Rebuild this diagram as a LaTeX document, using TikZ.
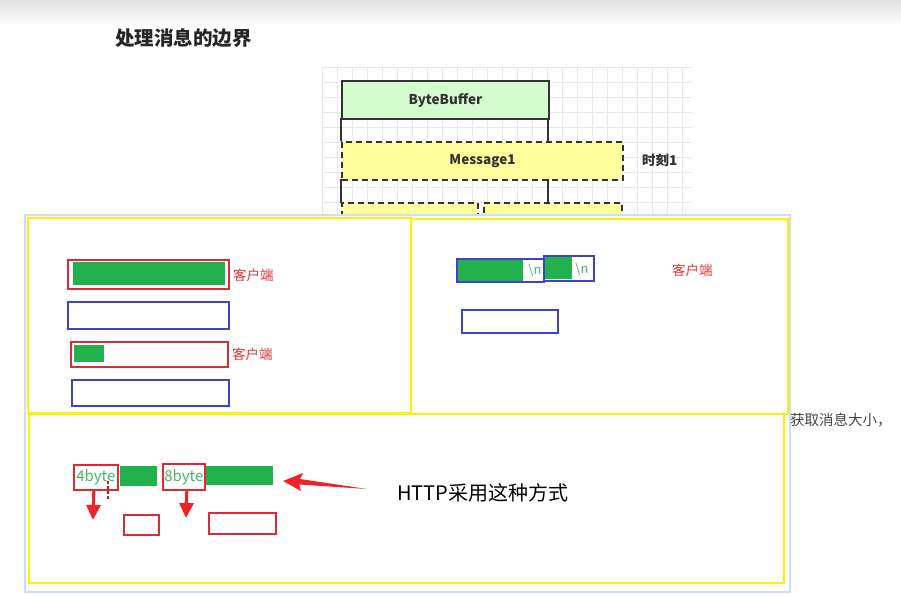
\documentclass[tikz,border=0pt]{standalone}
\usepackage{fontspec}
\setmainfont{Noto Sans CJK SC}
\usetikzlibrary{arrows.meta,positioning}

\definecolor{gridgray}{RGB}{232,232,232}
\definecolor{framedark}{RGB}{51,51,51}
\definecolor{bbgreen}{RGB}{213,252,206}
\definecolor{msgyellow}{RGB}{255,255,158}
\definecolor{panelyellow}{RGB}{255,242,0}
\definecolor{shadowblue}{RGB}{204,222,246}
\definecolor{boxred}{RGB}{222,42,52}
\definecolor{boxblue}{RGB}{66,66,196}
\definecolor{bargreen}{RGB}{34,177,76}
\definecolor{textgreen}{RGB}{72,180,112}
\definecolor{labelred}{RGB}{222,52,52}
\definecolor{arrowred}{RGB}{238,34,40}
\definecolor{notegray}{RGB}{68,68,68}

\begin{document}
\begin{tikzpicture}[
    x=1pt,
    y=-1pt,
    gridline/.style={line width=0.6pt, draw=gridgray},
    frameline/.style={line width=2pt, draw=framedark},
    bufbox/.style={
        frameline,
        fill=bbgreen,
        inner sep=0pt,
        anchor=north west,
        text=framedark,
        font=\bfseries\fontsize{13.5}{14}\selectfont
    },
    msgbox/.style={
        frameline,
        dashed,
        dash pattern=on 6pt off 4pt,
        fill=msgyellow,
        inner sep=0pt,
        anchor=north west,
        text=framedark,
        font=\bfseries\fontsize{13.5}{14}\selectfont
    },
    panel/.style={line width=2.2pt, draw=panelyellow},
    redbox/.style={draw=boxred, line width=1.6pt, inner sep=0pt, anchor=north west},
    bluebox/.style={draw=boxblue, line width=1.6pt, inner sep=0pt, anchor=north west},
    greenbar/.style={fill=bargreen, inner sep=0pt, anchor=north west},
    clientlabel/.style={
        text=labelred,
        inner sep=0pt,
        anchor=west,
        font=\fontsize{13.5}{14}\selectfont
    },
    nltext/.style={text=textgreen, inner sep=0pt, font=\fontsize{13}{14}\selectfont},
    downarrow/.style={
        draw=arrowred,
        line width=3pt,
        -{Triangle[length=15pt,width=14pt]}
    }
]

% =========================================================
% 画布与顶部渐变
% =========================================================

\useasboundingbox (0,0) rectangle (901,595);
\fill[white] (0,0) rectangle (901,595);
\shade[top color=black!12, bottom color=white] (0,0) rectangle (901,26);

% =========================================================
% 标题
% =========================================================

\node[anchor=west, inner sep=0pt, text=black!85,
      font=\bfseries\fontsize{19.5}{20}\selectfont] (title) at (115,38)
    {处理消息的边界};

% =========================================================
% 背景网格
% =========================================================

\foreach \gx in {322,337,...,692}
    \draw[gridline] (\gx,67) -- (\gx,215);
\foreach \gy in {67,82,...,215}
    \draw[gridline] (322,\gy) -- (692,\gy);

% =========================================================
% ByteBuffer 与消息
% =========================================================

\node[bufbox, minimum width=207pt, minimum height=38pt] (buf) at (341,80) {ByteBuffer};

\draw[frameline] (341,118) -- (341,141);
\draw[frameline] (548,118) -- (548,141);

\node[msgbox, minimum width=281pt, minimum height=38pt] (msg1) at (341,141) {Message1};
\node[anchor=west, inner sep=0pt, text=framedark,
      font=\bfseries\fontsize{13.5}{14}\selectfont] (t1) at (642,160) {时刻1};

\draw[frameline] (341,179) -- (341,203);
\draw[frameline] (548,179) -- (548,203);

\node[msgbox, minimum width=136pt, minimum height=40pt] (msg2a) at (341,202) {};
\node[msgbox, minimum width=138pt, minimum height=40pt] (msg2b) at (483,202) {};

% =========================================================
% 覆盖的面板
% =========================================================

\draw[draw=shadowblue, line width=2.5pt, fill=white] (25,215) rectangle (790,592);

\draw[panel] (28,218) rectangle (411,413);
\draw[panel] (411,219) rectangle (788,414);
\draw[panel] (29,414) rectangle (784,583);

\node[anchor=west, inner sep=0pt, text=notegray,
      font=\fontsize{14.5}{15}\selectfont] (note) at (790,420) {获取消息大小，};

% =========================================================
% 左上：半包与粘包
% =========================================================

\node[redbox, minimum width=161pt, minimum height=29pt] (r1) at (67,259) {};
\node[greenbar, minimum width=152pt, minimum height=23pt] (g1) at (73,262) {};
\node[clientlabel] (c1) at (233,275) {客户端};

\node[bluebox, minimum width=161pt, minimum height=27pt] (s1) at (67,301) {};

\node[redbox, minimum width=157pt, minimum height=25pt] (r2) at (70,341) {};
\node[greenbar, minimum width=30pt, minimum height=17pt] (g2) at (74,345) {};
\node[clientlabel] (c2) at (232,354) {客户端};

\node[bluebox, minimum width=157pt, minimum height=26pt] (s2) at (71,379) {};

% =========================================================
% 右上：分隔符
% =========================================================

\node[greenbar, minimum width=66pt, minimum height=22pt] (d1) at (457,259) {};
\node[bluebox, minimum width=87pt, minimum height=23pt] (n1) at (456,258) {};
\node[nltext] at (535,270) {\textbackslash n};

\node[greenbar, minimum width=27pt, minimum height=23pt] (d2) at (545,256) {};
\node[bluebox, minimum width=50pt, minimum height=25pt] (n2) at (543,255) {};
\node[nltext] at (582,269) {\textbackslash n};

\node[clientlabel] (c3) at (672,270) {客户端};

\node[bluebox, minimum width=96pt, minimum height=23pt] (n3) at (461,309) {};

% =========================================================
% 下方：长度字段
% =========================================================

\node[redbox, minimum width=44pt, minimum height=25pt, text=textgreen,
      font=\fontsize{15}{15}\selectfont] (b4) at (73,464) {4byte};
\node[greenbar, minimum width=37pt, minimum height=20pt] (g4) at (120,466) {};

\node[redbox, minimum width=42pt, minimum height=26pt, text=textgreen,
      font=\fontsize{15}{15}\selectfont] (b8) at (162,463) {8byte};
\node[greenbar, minimum width=67pt, minimum height=19pt] (g8) at (206,466) {};

\draw[draw=boxred!75!black, line width=1.2pt, dashed, dash pattern=on 3pt off 2pt]
    (108,481) -- (108,500);

\node[redbox, minimum width=35pt, minimum height=20pt] (p4) at (123,514) {};
\node[redbox, minimum width=67pt, minimum height=21pt] (p8) at (208,512) {};

\coordinate (a4) at (93,520);
\coordinate (a8) at (186,518);
\draw[downarrow] ([xshift=-2pt]b4.south) -- (a4);
\draw[downarrow] ([xshift=3pt]b8.south) -- (a8);

% 指向长度字段的箭头
\coordinate (tip) at (283,481);
\coordinate (tail) at (367,489);
\fill[arrowred] (tip) -- (303,473) -- (300,479) -- (tail)
    -- (299,484.5) -- (301,491) -- cycle;

\node[anchor=west, inner sep=0pt, text=black,
      font=\fontsize{20}{20}\selectfont] (http) at (397,493) {HTTP采用这种方式};

\end{tikzpicture}
\end{document}
